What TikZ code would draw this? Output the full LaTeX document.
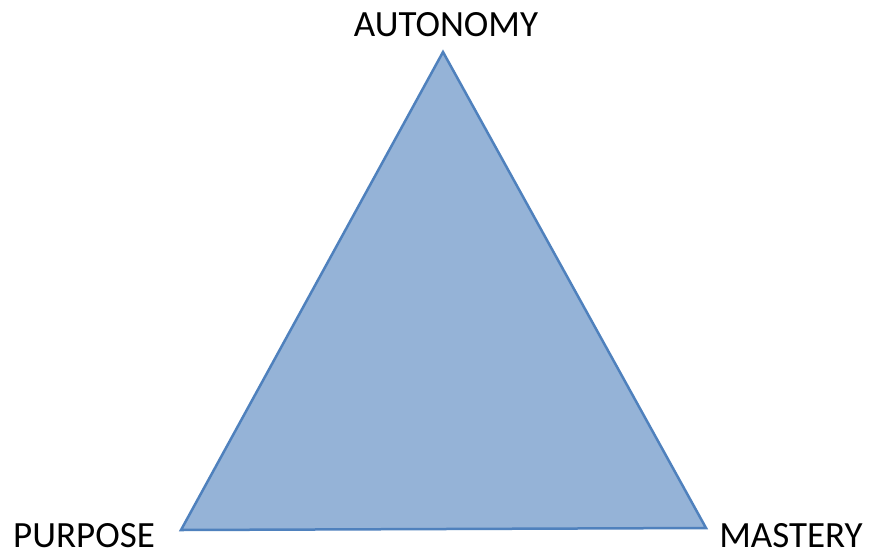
\documentclass[tikz,border=0pt]{standalone}
\usepackage{fontspec}
\setmainfont{Carlito}
\definecolor{trifill}{HTML}{95B3D7}
\definecolor{triline}{HTML}{4F81BD}
\tikzset{
  lbl/.style={font=\fontsize{37}{42}\selectfont, text=black, inner sep=0pt, text depth=0pt, anchor=base},
  tri/.style={fill=trifill, draw=triline, line width=2.5pt, line join=miter}
}
\begin{document}
\begin{tikzpicture}[x=1pt,y=-1pt]
\useasboundingbox (0,0) rectangle (872,555);
\fill[white] (0,0) rectangle (872,555);
\coordinate (apex) at (443,52);
\coordinate (bl) at (181,530);
\coordinate (br) at (706,528);
\draw[tri] (apex) -- (bl) -- (br) -- cycle;
\node[lbl] (autonomy) at (446,36) {AUTONOMY};
\node[lbl] (purpose) at (84,547) {PURPOSE};
\node[lbl] (mastery) at (791,547) {MASTERY};
\end{tikzpicture}
\end{document}
